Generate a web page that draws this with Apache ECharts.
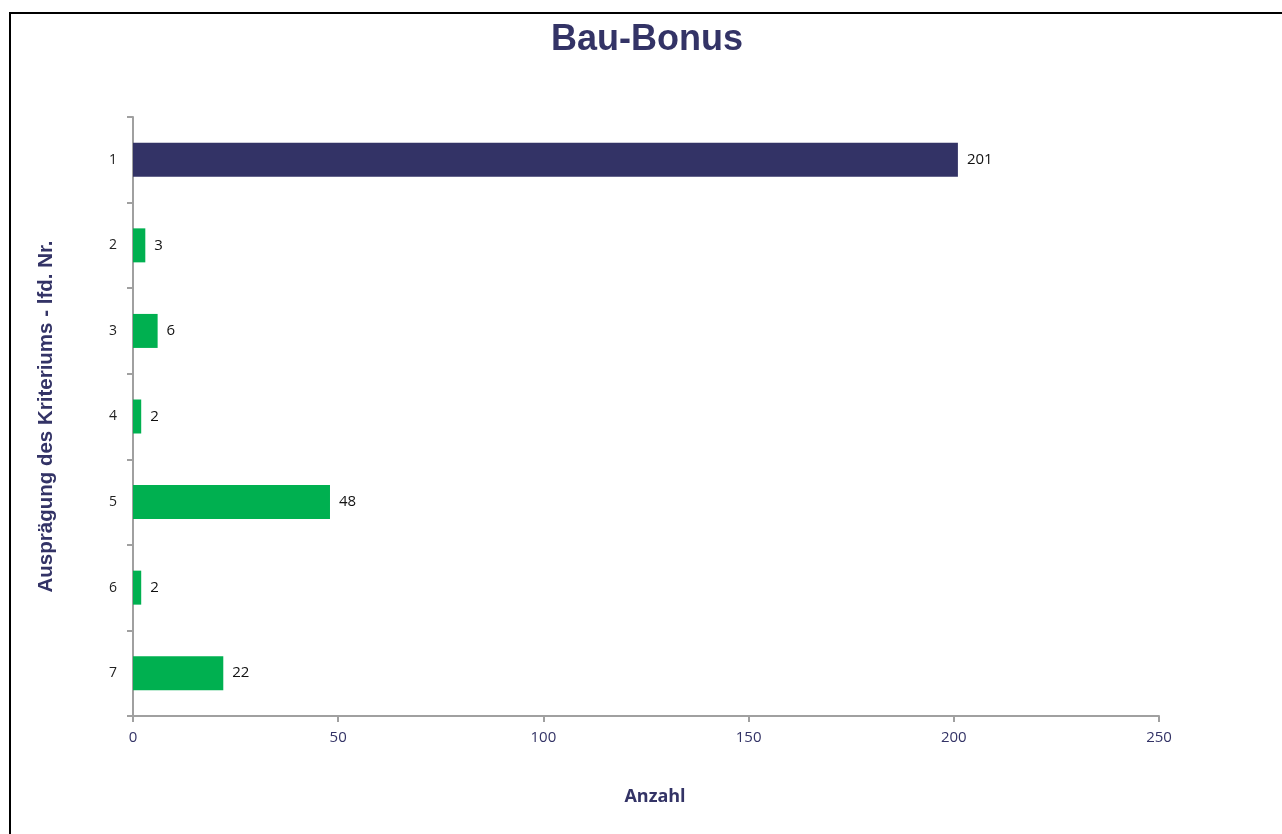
<!DOCTYPE html>
<html><head><meta charset="utf-8">
<script src="https://cdn.jsdelivr.net/npm/echarts@6/dist/echarts.min.js"></script>
<style>html,body{margin:0;padding:0;background:#fff}#c{width:1282px;height:834px}</style>
</head><body><div id="c"></div>
<script>
const categories = ['1','2','3','4','5','6','7'];
const values = [201, 3, 6, 2, 48, 2, 22];
const barColors = ['#333366','#00b050','#00b050','#00b050','#00b050','#00b050','#00b050'];
const xTicks = [0, 50, 100, 150, 200, 250];

const chart = echarts.init(document.getElementById('c'));
chart.setOption({
  animation: false,
  backgroundColor: '#fff',
  graphic: [
    {type:'line', shape:{x1:10,y1:13,x2:1282,y2:13}, style:{stroke:'#000',lineWidth:2}},
    {type:'line', shape:{x1:10,y1:12,x2:10,y2:834}, style:{stroke:'#000',lineWidth:2}}
  ],
  title: {
    text: 'Bau-Bonus', left: 642, top: 17, textAlign: 'center',
    textStyle: {fontFamily:'Liberation Sans', fontWeight:'bold', fontSize:36, color:'#333366'}
  },
  grid: {left:133, right:123, top:117, bottom:118},
  xAxis: {
    type:'value', min:0, max:250, interval:50,
    name:'Anzahl', nameLocation:'middle', nameGap:72,
    nameTextStyle:{fontFamily:'Open Sans', fontWeight:'bold', fontSize:18, color:'#333366', padding:[0,0,0,18]},
    axisLine:{show:true, lineStyle:{color:'#a0a0a0', width:2}},
    axisTick:{show:true, length:6, lineStyle:{color:'#a0a0a0', width:2}},
    splitLine:{show:false},
    axisLabel:{margin:14, fontFamily:'Open Sans', fontSize:15, color:'#333366',
      formatter: v => xTicks.includes(v) ? String(v) : ''}
  },
  yAxis: {
    type:'category', data:categories, inverse:true,
    name:'Ausprägung des Kriteriums - lfd. Nr.', nameLocation:'middle', nameGap:76, nameRotate:90,
    nameTextStyle:{fontFamily:'Liberation Sans', fontWeight:'bold', fontSize:20.5, color:'#333366'},
    axisLine:{show:true, lineStyle:{color:'#a0a0a0', width:2}},
    axisTick:{show:true, length:6, lineStyle:{color:'#a0a0a0', width:2}},
    axisLabel:{margin:16, fontFamily:'Open Sans', fontSize:14, color:'#222'}
  },
  series: [{
    type:'bar', barWidth:34,
    data: values.map((v,i)=>({value:v, itemStyle:{color:barColors[i]}})),
    label:{show:true, position:'right', distance:9, fontFamily:'Open Sans', fontSize:15, color:'#111'}
  }]
});
</script></body></html>
